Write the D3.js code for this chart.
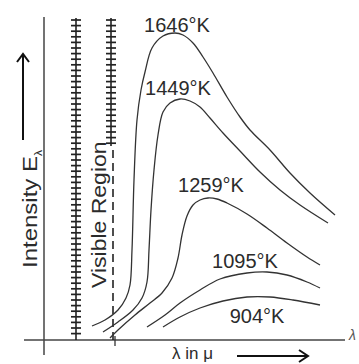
<!DOCTYPE html>
<html>
<head>
<meta charset="utf-8">
<script src="https://cdn.jsdelivr.net/npm/d3@7"></script>
<style>
  html, body { margin: 0; padding: 0; background: #fff; }
  svg { display: block; font-family: "Liberation Sans", Arial, sans-serif; }
</style>
</head>
<body>
<div id="chart"></div>
<script>
// wavelength (arbitrary units along the axis) vs intensity
const temperatures = ['1646°K', '1449°K', '1259°K', '1095°K', '904°K'];

const curve1646 = [[4.8, 1.4], [6.1, 2.0], [7.4, 3.0], [8.2, 4.2], [8.6, 5.5], [8.8, 9.0],
  [9.0, 16.0], [9.3, 22.0], [9.7, 25.0], [10.1, 26.8], [10.8, 29.2], [11.9, 30.4], [13.1, 30.7],
  [13.9, 30.5], [14.9, 29.7], [15.9, 28.3], [16.9, 26.7], [18.3, 24.3], [19.6, 22.3], [20.6, 21.0],
  [22.6, 19.0], [24.6, 16.7], [26.6, 14.7], [29.1, 12.5]];
const curve1449 = [[5.9, 0.8], [7.4, 1.8], [8.9, 3.0], [9.8, 4.2], [10.3, 5.8], [10.5, 9.0],
  [10.7, 13.0], [11.0, 17.0], [11.4, 20.5], [11.9, 22.8], [12.6, 23.7], [13.6, 24.1], [14.6, 23.9],
  [15.6, 23.3], [16.6, 22.2], [17.9, 20.7], [19.6, 18.9], [21.6, 16.8], [23.6, 15.0], [25.6, 13.5],
  [28.4, 11.7]];
const curve1259 = [[6.6, 0.2], [7.4, 1.0], [9.1, 2.5], [10.6, 3.7], [11.8, 4.7], [12.8, 6.2],
  [13.4, 8.2], [13.8, 10.5], [14.3, 12.4], [14.9, 13.5], [15.6, 14.0], [16.4, 14.2], [17.3, 14.1],
  [18.3, 13.7], [20.3, 12.6], [22.3, 11.2], [24.3, 9.7], [26.3, 8.3], [27.6, 7.5]];
const curve1095 = [[10.3, 1.3], [12.1, 2.5], [13.6, 3.7], [15.6, 5.0], [17.6, 6.1], [20.3, 6.7],
  [22.3, 6.8], [24.3, 6.5], [26.3, 5.8], [27.6, 5.2]];
const curve904 = [[11.9, 1.3], [13.6, 2.3], [15.6, 3.2], [17.9, 3.9], [20.3, 4.3], [22.6, 4.3],
  [24.9, 4.0], [27.6, 3.5]];

const curves = [curve1646, curve1449, curve1259, curve1095, curve904];

// bounds of the visible band (same axis units)
const visibleRegion = [3.2, 6.7];

// label offsets from each curve's peak, px
const labelOffsets = [[2, -1], [-2, -4], [3, -6], [-22, -4], [10, 26]];

const width = 359, height = 364;
const ink = '#2b2b2b';

const svg = d3.select('#chart').append('svg')
  .attr('width', width)
  .attr('height', height);

const xScale = d3.scaleLinear().domain([0, 30]).range([44, 344]);
const yScale = d3.scaleLinear().domain([0, 32]).range([340, 20]);

const x0 = xScale(0), y0 = yScale(0);

// axes: plain lines, no ticks
svg.append('line')
  .attr('x1', x0).attr('x2', x0)
  .attr('y1', 17).attr('y2', 355)
  .attr('stroke', '#444').attr('stroke-width', 1.5);

svg.append('line')
  .attr('x1', 24).attr('x2', 345)
  .attr('y1', y0).attr('y2', y0)
  .attr('stroke', '#444').attr('stroke-width', 1.5);

// hatched boundaries of the visible region
function hatch(xv, yTop, yBottom) {
  const x = xScale(xv);
  const g = svg.append('g');
  g.append('line')
    .attr('x1', x).attr('x2', x)
    .attr('y1', yTop).attr('y2', yBottom)
    .attr('stroke', '#222').attr('stroke-width', 1.6);
  const ticks = d3.range(yTop + 2, yBottom - 1, 5.6);
  g.selectAll('line.tick').data(ticks).enter().append('line')
    .attr('class', 'tick')
    .attr('x1', x - 5).attr('x2', x + 5)
    .attr('y1', d => d).attr('y2', d => d)
    .attr('stroke', '#222').attr('stroke-width', 1.7);
}
hatch(visibleRegion[0], 18, y0);
hatch(visibleRegion[1], 18, 146);

// dashed continuation of the right bound
const xd = xScale(visibleRegion[1]) + 2;
svg.append('line')
  .attr('x1', xd).attr('x2', xd)
  .attr('y1', 150).attr('y2', y0)
  .attr('stroke', '#222').attr('stroke-width', 1.6)
  .attr('stroke-dasharray', '8,5');
svg.append('line')
  .attr('x1', xd + 2).attr('x2', xd + 2)
  .attr('y1', y0 - 4).attr('y2', y0 + 6)
  .attr('stroke', '#333').attr('stroke-width', 1.3);

// radiation curves
const line = d3.line()
  .x(d => xScale(d[0]))
  .y(d => yScale(d[1]))
  .curve(d3.curveCatmullRom.alpha(0.5));

svg.selectAll('path.curve').data(curves).enter().append('path')
  .attr('class', 'curve')
  .attr('d', line)
  .attr('fill', 'none')
  .attr('stroke', '#333')
  .attr('stroke-width', 1.3);

// temperature labels above/below each peak
svg.selectAll('text.temp').data(curves).enter().append('text')
  .attr('class', 'temp')
  .attr('x', (d, i) => xScale(d[d3.maxIndex(d, p => p[1])][0]) + labelOffsets[i][0])
  .attr('y', (d, i) => yScale(d3.max(d, p => p[1])) + labelOffsets[i][1])
  .attr('text-anchor', 'middle')
  .attr('font-size', 20)
  .attr('fill', ink)
  .text((d, i) => temperatures[i]);

// "Visible Region"
svg.append('text')
  .attr('transform', 'translate(106,288) rotate(-90) scale(1.15,1)')
  .attr('font-size', 20)
  .attr('fill', ink)
  .text('Visible Region');

// y label and arrow
const yLab = svg.append('text')
  .attr('transform', 'translate(37,268) rotate(-90) scale(1.2,1)')
  .attr('font-size', 20)
  .attr('fill', ink)
  .text('Intensity E');
yLab.append('tspan')
  .attr('font-size', 10)
  .attr('dy', 5)
  .text('λ');

svg.append('line')
  .attr('x1', 23).attr('x2', 23)
  .attr('y1', 140).attr('y2', 55)
  .attr('stroke', '#111').attr('stroke-width', 2);
svg.append('path')
  .attr('d', 'M17,62 L23,54 L29,62')
  .attr('fill', 'none').attr('stroke', '#111').attr('stroke-width', 2);

// x label and arrow
svg.append('text')
  .attr('x', 172).attr('y', 359)
  .attr('font-size', 17)
  .attr('fill', ink)
  .text('λ in μ');

svg.append('line')
  .attr('x1', 237).attr('x2', 307)
  .attr('y1', 356).attr('y2', 356)
  .attr('stroke', '#111').attr('stroke-width', 2);
svg.append('path')
  .attr('d', 'M299,350 L308,356 L299,362')
  .attr('fill', 'none').attr('stroke', '#111').attr('stroke-width', 2);

svg.append('text')
  .attr('x', 349).attr('y', 340)
  .attr('font-size', 14)
  .attr('font-style', 'italic')
  .attr('fill', '#555')
  .text('λ');
</script>
</body>
</html>
